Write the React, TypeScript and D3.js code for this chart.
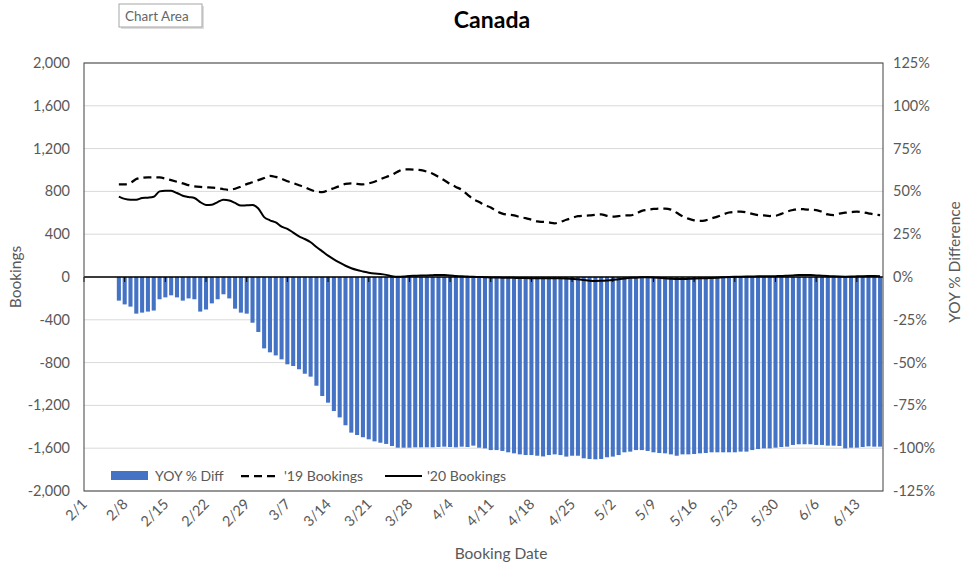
import * as d3 from 'd3';

// Canada — YOY % difference in bookings (bars, right axis) with '19 / '20 bookings (lines, left axis)

const START_DAY = 6; // first data point is 2/7 (day 6 counting from 2/1)
const LAST_DAY = 137; // 6/17

const TICK_LABELS = ['2/1', '2/8', '2/15', '2/22', '2/29', '3/7', '3/14', '3/21', '3/28', '4/4', '4/11',
  '4/18', '4/25', '5/2', '5/9', '5/16', '5/23', '5/30', '6/6', '6/13'];

const LEFT_TICKS = [2000, 1600, 1200, 800, 400, 0, -400, -800, -1200, -1600, -2000];
const RIGHT_TICKS = [125, 100, 75, 50, 25, 0, -25, -50, -75, -100, -125];

const YOY_PCT = [
  -13.8, -16.0, -17.3, -21.4, -20.8, -20.2, -19.6, -13.0, -11.9, -10.7, -11.9, -13.8, -12.5, -13.0,
  -20.2, -19.0, -15.4, -13.0, -10.1, -12.5, -18.5, -20.8, -21.4, -26.7, -32.1, -41.7, -44.0, -45.8,
  -48.1, -51.0, -52.0, -53.9, -56.5, -58.2, -63.5, -69.5, -73.4, -78.3, -82.0, -86.6, -90.9, -92.3,
  -93.6, -94.8, -96.0, -96.8, -97.5, -98.7,
  -99.7, -99.7, -99.7, -99.5, -99.5, -99.5, -99.5, -99.3, -99.1, -99.3, -99.5, -99.1, -99.3, -98.5,
  -99.7, -100.1, -101.1, -101.1, -101.6, -102.4, -103.0, -103.6, -104.0, -104.0, -104.4, -104.8,
  -104.0, -103.6, -104.0, -104.9, -104.4, -104.4, -105.9, -106.3, -106.5, -106.3, -105.3, -104.9,
  -104.0, -102.4, -102.0, -101.1,
  -101.1, -101.6, -102.4, -102.8, -103.0, -103.6, -104.4, -103.6, -103.6, -103.4, -103.0, -102.8,
  -102.4, -102.4, -102.4, -102.4, -102.4, -102.0, -102.0, -101.1, -100.5, -100.1, -100.1, -99.7,
  -99.3, -99.1, -98.1, -97.7, -97.7, -97.7, -98.1, -98.1, -98.5, -98.5, -98.7, -100.1, -99.7, -99.7,
  -99.3, -98.9, -99.1, -99.1,
];

const BOOKINGS_19 = [
  866, 866, 880, 915, 928, 932, 932, 930, 920, 905, 890, 875, 858, 848, 842, 838, 835, 830, 820, 815,
  825, 845, 868, 885, 905, 925, 945, 935, 918, 895, 878, 858, 840, 815, 798, 793, 810, 830, 850, 870,
  875, 870, 866, 875, 890, 913, 935, 955, 985, 1005, 1005, 1002, 998, 985, 965, 935, 905, 870, 842, 815,
  770, 726, 700, 670, 650, 615, 592, 582, 576, 560, 550, 535, 520, 515, 510, 502, 515, 535, 552, 568,
  572, 575, 582, 586, 572, 564, 570, 576, 576, 592, 618, 628, 636, 640, 640, 630, 600, 568, 545, 530,
  525, 530, 548, 564, 585, 603, 609, 611, 605, 590, 579, 575, 570, 572, 590, 611, 626, 636, 633, 628,
  626, 610, 585, 579, 592, 601, 606, 611, 605, 595, 585, 579,
];

const BOOKINGS_20 = [
  751, 730, 722, 722, 738, 741, 750, 800, 807, 805, 785, 760, 748, 738, 700, 673, 675, 700, 722, 715,
  692, 668, 670, 672, 640, 560, 530, 510, 470, 450, 415, 380, 355, 325, 280, 240, 200, 165, 134, 105,
  82, 65, 52, 40, 32, 28, 20, 8, 3, 5, 10, 12, 14, 15, 17, 19, 18, 15, 10, 6,
  4, 2, 0, -2, -4, -5, -6, -6, -8, -10, -10, -11, -12, -12, -12, -12, -12, -14, -18, -22,
  -28, -34, -37, -36, -33, -28, -20, -14, -8, -6, -3, -2, -4, -8, -12, -16, -19, -19, -17, -14,
  -12, -12, -9, -6, -3, 0, 2, 3, 4, 5, 6, 6, 7, 8, 9, 12, 15, 18, 19, 18,
  15, 12, 9, 6, 4, 3, 4, 6, 8, 9, 9, 8,
];

const BAR_COLOR = '#4472C4';
const TEXT_COLOR = '#595959';
const FONT = 'Lato, "Open Sans", sans-serif';

const W = 965;
const H = 566;
const PLOT = { left: 84, right: 883, top: 63, bottom: 491 };

export default function App() {
  const x = d3.scaleLinear().domain([0, LAST_DAY + 0.5]).range([PLOT.left, PLOT.right]);
  const yLeft = d3.scaleLinear().domain([-2000, 2000]).range([PLOT.bottom, PLOT.top]);
  const yRight = d3.scaleLinear().domain([-125, 125]).range([PLOT.bottom, PLOT.top]);
  const barW = (x(1) - x(0)) * 0.7;
  const zeroY = yLeft(0);

  const days = d3.range(START_DAY, LAST_DAY + 1);
  const line = d3.line<number>()
    .x((_, i) => x(days[i]))
    .y((v) => yLeft(v))
    .curve(d3.curveMonotoneX);

  const tickDays = TICK_LABELS.map((_, i) => i * 7);

  return (
    <svg width={W} height={H} style={{ position: 'absolute', left: 0, top: 0, background: '#fff' }}
      fontFamily={FONT}>
      <rect x={0} y={0} width={W} height={H} fill="#fff" />

      <text x={492} y={28} textAnchor="middle" fontSize={23} fontWeight="bold" fill="#000">Canada</text>

      {/* Excel "Chart Area" hover tag */}
      <rect x={121} y={6} width={83} height={23} fill="#bbb" opacity={0.5} />
      <rect x={119} y={4} width={83} height={23} fill="#fff" stroke="#a6a6a6" strokeWidth={1} />
      <text x={125} y={21} fontSize={13.5} fill="#666">Chart Area</text>

      {/* gridlines */}
      {LEFT_TICKS.map((t) => (
        <line key={t} x1={PLOT.left} x2={PLOT.right} y1={yLeft(t)} y2={yLeft(t)} stroke="#d9d9d9" strokeWidth={1} />
      ))}

      {/* bars */}
      {YOY_PCT.map((v, i) => (
        <rect key={i} x={x(days[i]) - barW / 2} y={yRight(0)} width={barW}
          height={yRight(v) - yRight(0)} fill={BAR_COLOR} />
      ))}

      {/* zero axis with tick marks */}
      <line x1={PLOT.left} x2={PLOT.right} y1={zeroY} y2={zeroY} stroke="#000" strokeWidth={1.5} />
      {tickDays.map((d) => (
        <line key={d} x1={x(d)} x2={x(d)} y1={zeroY} y2={zeroY + 5} stroke="#000" strokeWidth={1} />
      ))}

      {/* lines */}
      <path d={line(BOOKINGS_19) ?? ''} fill="none" stroke="#000" strokeWidth={2.25} strokeDasharray="8,5" />
      <path d={line(BOOKINGS_20) ?? ''} fill="none" stroke="#000" strokeWidth={2} />

      {/* plot border */}
      <rect x={PLOT.left} y={PLOT.top} width={PLOT.right - PLOT.left} height={PLOT.bottom - PLOT.top}
        fill="none" stroke="#404040" strokeWidth={1} />

      {/* left axis */}
      {LEFT_TICKS.map((t) => (
        <text key={t} x={70} y={yLeft(t) + 5} textAnchor="end" fontSize={14.5} fill={TEXT_COLOR}>
          {d3.format(',')(t).replace('−', '-')}
        </text>
      ))}
      <text transform={`translate(21,${zeroY}) rotate(-90)`} textAnchor="middle" fontSize={15.5} fill={TEXT_COLOR}>
        Bookings
      </text>

      {/* right axis */}
      {RIGHT_TICKS.map((t) => (
        <text key={t} x={893} y={yRight(t) + 5} textAnchor="start" fontSize={14.5} fill={TEXT_COLOR}>
          {`${t}%`}
        </text>
      ))}
      <text transform={`translate(960,262) rotate(-90)`} textAnchor="middle" fontSize={15.5} fill={TEXT_COLOR}>
        YOY % Difference
      </text>

      {/* x axis labels */}
      {TICK_LABELS.map((lab, i) => (
        <text key={lab} transform={`translate(${x(tickDays[i]) + 4},${505}) rotate(-45)`} textAnchor="end"
          fontSize={14.5} fill={TEXT_COLOR}>
          {lab}
        </text>
      ))}
      <text x={501} y={559} textAnchor="middle" fontSize={15.5} fill={TEXT_COLOR}>Booking Date</text>

      {/* legend */}
      <rect x={111} y={471} width={37} height={9} fill={BAR_COLOR} />
      <text x={155} y={481} fontSize={14} fill={TEXT_COLOR}>YOY % Diff</text>
      <line x1={241} x2={278} y1={476} y2={476} stroke="#000" strokeWidth={2.25} strokeDasharray="8,5" />
      <text x={284} y={481} fontSize={14} fill={TEXT_COLOR}>'19 Bookings</text>
      <line x1={385} x2={422} y1={476} y2={476} stroke="#000" strokeWidth={2} />
      <text x={427} y={481} fontSize={14} fill={TEXT_COLOR}>'20 Bookings</text>
    </svg>
  );
}
